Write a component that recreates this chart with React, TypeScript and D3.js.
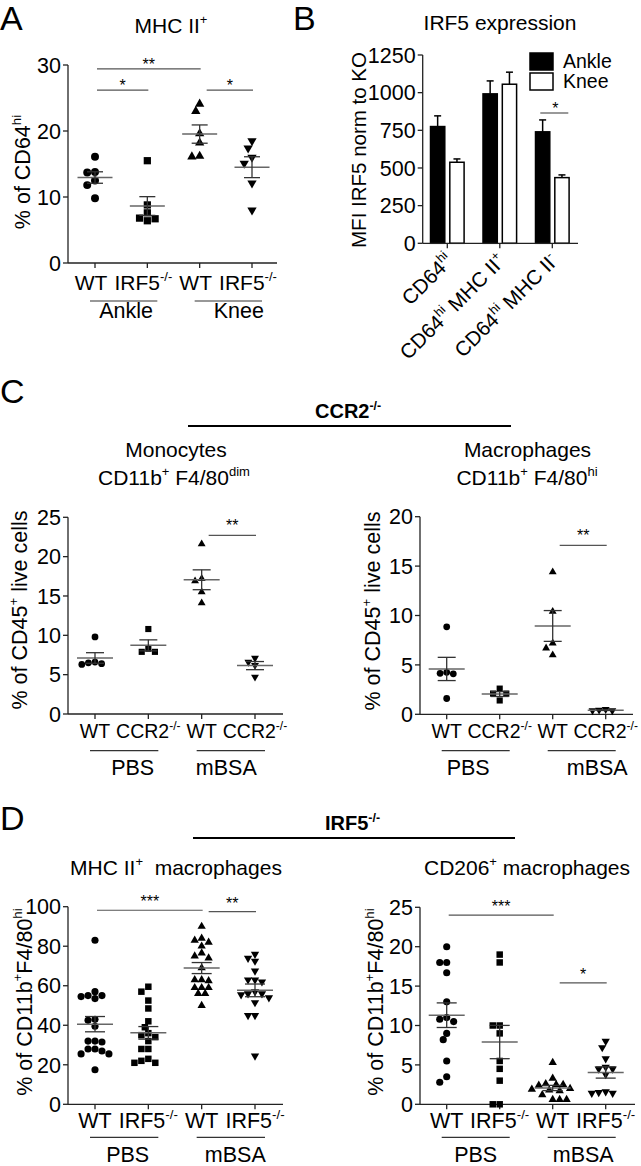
import React from "react";
import * as d3 from "d3";

const FONT = "'Liberation Sans', Arial, Helvetica, sans-serif";
const W = 641;
const H = 1166;

// ---- A: MHC II+ (% of CD64hi) ----
const aCategories = ["WT", "IRF5^{-/-}", "WT", "IRF5^{-/-}"];
const aGroups = ["Ankle", "Knee"];
const aWtAnkle = [16.1, 13.7, 13.8, 12.5, 11.8, 9.8];
const aKoAnkle = [15.5, 8.8, 7.6, 6.8, 6.4, 6.7];
const aWtKnee = [24.1, 23.0, 19.6, 18.2, 16.1, 16.2];
const aKoKnee = [18.5, 17.4, 16.0, 15.1, 12.1, 8.0];
const aTicks = [0, 10, 20, 30];
// [from, to, value, label]
const aSig = [[0, 2, 29.4, "**"], [0, 1, 26.2, "*"], [2, 3, 26.2, "*"]];

// ---- B: IRF5 expression ----
const bCategories = ["CD64^{hi}", "CD64^{hi} MHC II^{+}", "CD64^{hi} MHC II^{-}"];
const bSeries = ["Ankle", "Knee"];
const bAnkle = [775, 992, 740];
const bAnkleSem = [71, 86, 79];
const bKnee = [538, 1056, 436];
const bKneeSem = [22, 80, 18];
const bTicks = [0, 250, 500, 750, 1000, 1250];

// ---- C: CCR2-/- ----
const cCategories = ["WT", "CCR2^{-/-}", "WT", "CCR2^{-/-}"];
const cGroups = ["PBS", "mBSA"];
const cMonoWtPbs = [9.8, 6.6, 6.4, 6.5, 6.3];
const cMonoKoPbs = [10.8, 8.3, 7.9, 7.9];
const cMonoWtMbsa = [21.6, 16.9, 17.2, 15.5, 14.1];
const cMonoKoMbsa = [7.1, 6.6, 6.2, 4.7];
const cMonoTicks = [0, 5, 10, 15, 20, 25];
const cMonoSig = [[2, 3, 22.7, "**"]];
const cMacWtPbs = [8.85, 4.15, 4.1, 4.25, 1.6];
const cMacKoPbs = [2.1, 2.6, 2.1, 1.4];
const cMacWtMbsa = [14.4, 10.4, 7.2, 6.7, 6.0];
const cMacKoMbsa = [0.43, 0.37, 0.37, 0.5];
const cMacTicks = [0, 5, 10, 15, 20];
const cMacSig = [[2, 3, 17.1, "**"]];

// ---- D: IRF5-/- ----
const dCategories = ["WT", "IRF5^{-/-}", "WT", "IRF5^{-/-}"];
const dGroups = ["PBS", "mBSA"];
const dMhcWtPbs = [83, 57, 55, 53.5, 54.5, 55, 43, 39.5, 42.5, 32, 31.5, 32, 28, 27, 25.5, 25.5, 28, 17.5];
const dMhcKoPbs = [59.5, 57, 52.5, 48.5, 42, 39, 35, 36, 34, 32, 28, 28, 22, 21, 21, 23];
const dMhcWtMbsa = [90, 84, 83, 82, 80, 76.5, 75, 74, 69, 63, 63, 62.5, 59, 59, 59, 56, 56, 50];
const dMhcKoMbsa = [76, 74, 72.5, 67.5, 63, 62, 63, 57, 56, 56, 55.5, 54, 51.5, 45, 45, 24.5];
const dMhcTicks = [0, 20, 40, 60, 80, 100];
const dMhcSig = [[0, 2, 98.2, "***"], [2, 3, 97.5, "**"]];
const dCdWtPbs = [20, 18, 18, 16.7, 13, 11, 10.8, 10.5, 8.2, 9, 5.5, 3.5, 2.8];
const dCdKoPbs = [19, 18, 10, 10, 9, 5.5, 4.5, 3, 0, 0];
const dCdWtMbsa = [5.3, 3.3, 2.6, 2.5, 2.5, 2.4, 2.0, 1.9, 1.8, 1.7, 1.2, 0.6, 0.6, 0.6];
const dCdKoMbsa = [8, 7.2, 5.8, 4.7, 4.5, 4.5, 3.8, 1.6, 1.4, 1.4, 1.5];
const dCdTicks = [0, 5, 10, 15, 20, 25];
const dCdSig = [[0, 2, 24.0, "***"], [2, 3, 15.4, "*"]];

// text with ^{superscript} parts
function rich(s, fs) {
  const parts = s.split(/(\^\{[^}]*\})/).filter((p) => p.length);
  const out = [];
  let up = false;
  parts.forEach((part, i) => {
    if (part.startsWith("^{")) {
      out.push(
        <tspan key={i} fontSize={fs * 0.62} dy={-fs * 0.42}>
          {part.slice(2, -1)}
        </tspan>
      );
      up = true;
    } else {
      out.push(
        <tspan key={i} dy={up ? fs * 0.42 : 0}>
          {part}
        </tspan>
      );
      up = false;
    }
  });
  return out;
}

function Txt({ x, y, s, fs = 21, anchor = "middle", weight = "normal", transform = undefined }) {
  return (
    <text
      x={x}
      y={y}
      fontSize={fs}
      textAnchor={anchor}
      fontWeight={weight}
      transform={transform}
      style={{ whiteSpace: "pre" }}
    >
      {rich(s, fs)}
    </text>
  );
}

// simple beeswarm placement
function swarm(vals, y, cx, d) {
  const order = d3.range(vals.length).sort((a, b) => vals[b] - vals[a]);
  const cands = [0];
  for (let k = 1; k < 14; k++) cands.push((-k * d) / 2, (k * d) / 2);
  const placed = [];
  const out = new Array(vals.length);
  order.forEach((i) => {
    const py = y(vals[i]);
    for (const off of cands) {
      const px = cx + off;
      if (placed.every((q) => (q.x - px) ** 2 + (q.y - py) ** 2 >= d * d * 0.9)) {
        placed.push({ x: px, y: py });
        out[i] = { x: px, y: py };
        break;
      }
    }
  });
  return out;
}

const shapes = ["circle", "square", "up", "down"];
function symPath(kind, size) {
  if (kind === "circle") return d3.symbol().type(d3.symbolCircle).size(size)();
  if (kind === "square") return d3.symbol().type(d3.symbolSquare).size(size * 1.05)();
  return d3.symbol().type(d3.symbolTriangle).size(size * 0.75)();
}

function ScatterPanel(p) {
  const y = d3.scaleLinear().domain([0, p.max]).range([p.yBot, p.yTop]);
  const x = d3.scalePoint().domain(d3.range(p.cats.length)).range(p.catRange);
  const diam = Math.sqrt(p.symSize) * 1.1;
  return (
    <g>
      {/* axes */}
      <line x1={p.x0} x2={p.x0} y1={p.yTop} y2={p.yBot} stroke="#222" strokeWidth={1.3} />
      <line x1={p.x0} x2={p.x1} y1={p.yBot} y2={p.yBot} stroke="#222" strokeWidth={1.3} />
      {p.ticks.map((t) => (
        <g key={t}>
          <line x1={p.x0 - 5} x2={p.x0} y1={y(t)} y2={y(t)} stroke="#222" strokeWidth={1.3} />
          <text x={p.x0 - 7} y={y(t)} dy="0.36em" fontSize={21.5} textAnchor="end">
            {t}
          </text>
        </g>
      ))}
      {p.cats.map((c, i) => (
        <g key={i}>
          <line x1={x(i)} x2={x(i)} y1={p.yBot} y2={p.yBot + 5} stroke="#222" strokeWidth={1.3} />
          <Txt x={x(i) + p.catDx} y={p.catLabelY} s={c} fs={p.catFs} />
        </g>
      ))}
      {p.groups.map((g, k) => (
        <g key={g}>
          <line
            x1={x(2 * k) - 5}
            x2={x(2 * k + 1) + 10}
            y1={p.groupLineY}
            y2={p.groupLineY}
            stroke="#333"
            strokeWidth={1.2}
          />
          <Txt x={(x(2 * k) + x(2 * k + 1)) / 2 + p.groupDx[k]} y={p.groupLabelY} s={g} fs={21.5} />
        </g>
      ))}
      <Txt
        x={0}
        y={0}
        s={p.yLabel}
        fs={21.5}
        transform={`translate(${p.yLabelX},${p.yLabelY}) rotate(-90)`}
      />
      {/* points */}
      {p.series.map((vals, i) => {
        const pts = swarm(vals, y, x(i), diam);
        const d = symPath(shapes[i], p.symSize);
        return pts.map((pt, j) => (
          <path
            key={`${i}-${j}`}
            d={d}
            transform={`translate(${pt.x},${pt.y})${shapes[i] === "down" ? " rotate(180)" : ""}`}
            fill="#000"
          />
        ));
      })}
      {/* mean +/- SEM */}
      {p.series.map((vals, i) => {
        const m = d3.mean(vals);
        const sem = d3.deviation(vals) / Math.sqrt(vals.length);
        const cx = x(i);
        return (
          <g key={`m${i}`}>
            <line x1={cx - p.meanHalf} x2={cx + p.meanHalf} y1={y(m)} y2={y(m)} stroke="#666" strokeWidth={1.5} />
            <line x1={cx} x2={cx} y1={y(m + sem)} y2={y(m - sem)} stroke="#333" strokeWidth={1.3} />
            <line x1={cx - p.semHalf} x2={cx + p.semHalf} y1={y(m + sem)} y2={y(m + sem)} stroke="#333" strokeWidth={1.3} />
            <line x1={cx - p.semHalf} x2={cx + p.semHalf} y1={y(m - sem)} y2={y(m - sem)} stroke="#333" strokeWidth={1.3} />
          </g>
        );
      })}
      {/* significance */}
      {p.sig.map(([a, b, v, lab], k) => {
        const x1 = x(a) + (a === 0 ? 2 : 7);
        const x2 = x(b) + 1;
        return (
          <g key={`s${k}`}>
            <line x1={x1} x2={x2} y1={y(v)} y2={y(v)} stroke="#555" strokeWidth={1.2} />
            <text x={(x1 + x2) / 2} y={y(v) + p.starDy} fontSize={16} textAnchor="middle">
              {lab}
            </text>
          </g>
        );
      })}
    </g>
  );
}

function BarPanel() {
  const y = d3.scaleLinear().domain([0, 1250]).range([243.3, 55]);
  const gx = d3.scalePoint().domain(bCategories).range([447.3, 552.3]);
  const sx = d3.scaleBand().domain(bSeries).range([-16.8, 16.8]).paddingInner(0.26);
  const series = [
    { name: bSeries[0], vals: bAnkle, sem: bAnkleSem, fill: "#000" },
    { name: bSeries[1], vals: bKnee, sem: bKneeSem, fill: "#fff" },
  ];
  const x0 = 422.7;
  return (
    <g>
      {series.map((s) =>
        bCategories.map((c, i) => {
          const bx = gx(c) + sx(s.name);
          const bw = sx.bandwidth();
          const top = y(s.vals[i]);
          const et = y(s.vals[i] + s.sem[i]);
          const cx = bx + bw / 2;
          return (
            <g key={s.name + i}>
              <line x1={cx} x2={cx} y1={top} y2={et} stroke="#000" strokeWidth={1.5} />
              <line x1={cx - 3.5} x2={cx + 3.5} y1={et} y2={et} stroke="#000" strokeWidth={1.5} />
              <rect x={bx} y={top} width={bw} height={y(0) - top} fill={s.fill} stroke="#000" strokeWidth={1.5} />
            </g>
          );
        })
      )}
      <line x1={x0} x2={x0} y1={y(1250)} y2={y(0)} stroke="#222" strokeWidth={1.3} />
      <line x1={x0} x2={578} y1={y(0)} y2={y(0)} stroke="#222" strokeWidth={1.3} />
      {bTicks.map((t) => (
        <g key={t}>
          <line x1={x0 - 5} x2={x0} y1={y(t)} y2={y(t)} stroke="#222" strokeWidth={1.3} />
          <text x={x0 - 7} y={y(t)} dy="0.36em" fontSize={21.5} textAnchor="end">
            {t}
          </text>
        </g>
      ))}
      {bCategories.map((c) => (
        <g key={c}>
          <line x1={gx(c)} x2={gx(c)} y1={y(0)} y2={y(0) + 5} stroke="#222" strokeWidth={1.3} />
          <Txt x={0} y={0} s={c} fs={20.5} anchor="end" transform={`translate(${gx(c) + 7},${y(0) + 19}) rotate(-45)`} />
        </g>
      ))}
      <Txt x={0} y={0} s="MFI IRF5 norm to KO" fs={20.5} transform={`translate(366,150) rotate(-90)`} />
      {/* legend */}
      {series.map((s, i) => (
        <g key={s.name}>
          <rect x={530} y={53 + i * 20} width={23} height={17} fill={s.fill} stroke="#000" strokeWidth={1.5} />
          <text x={563} y={68 + i * 19.5} fontSize={19.5}>
            {s.name}
          </text>
        </g>
      ))}
      {/* significance */}
      <line x1={gx(bCategories[2]) - 12} x2={gx(bCategories[2]) + 16} y1={y(865)} y2={y(865)} stroke="#555" strokeWidth={1.2} />
      <text x={gx(bCategories[2]) + 3} y={y(865) + 1} fontSize={16} textAnchor="middle">
        *
      </text>
    </g>
  );
}

export default function App() {
  const panels = [
    {
      cats: aCategories, groups: aGroups, series: [aWtAnkle, aKoAnkle, aWtKnee, aKoKnee],
      ticks: aTicks, max: 30, x0: 68, x1: 277, yBot: 263, yTop: 65, catRange: [95, 252],
      catLabelY: 290, catDx: -4, catFs: 21, groupLineY: 301, groupLabelY: 318, groupDx: [5, 13],
      sig: aSig, starDy: 1, symSize: 50, meanHalf: 17.5, semHalf: 8,
      yLabel: "% of CD64^{hi}", yLabelX: 30, yLabelY: 172,
    },
    {
      cats: cCategories, groups: cGroups, series: [cMonoWtPbs, cMonoKoPbs, cMonoWtMbsa, cMonoKoMbsa],
      ticks: cMonoTicks, max: 25, x0: 68, x1: 283, yBot: 714, yTop: 517.3, catRange: [95, 255],
      catLabelY: 738, catDx: 0, catFs: 19.5, groupLineY: 750.7, groupLabelY: 775, groupDx: [11, -2],
      sig: cMonoSig, starDy: -4, symSize: 36, meanHalf: 18, semHalf: 9,
      yLabel: "% of CD45^{+} live cells", yLabelX: 27, yLabelY: 610,
    },
    {
      cats: cCategories, groups: cGroups, series: [cMacWtPbs, cMacKoPbs, cMacWtMbsa, cMacKoMbsa],
      ticks: cMacTicks, max: 20, x0: 420, x1: 633, yBot: 714.3, yTop: 516.7, catRange: [446.7, 605.7],
      catLabelY: 738, catDx: 0, catFs: 19.5, groupLineY: 750.7, groupLabelY: 775, groupDx: [-5, 18],
      sig: cMacSig, starDy: -4, symSize: 36, meanHalf: 18, semHalf: 9,
      yLabel: "% of CD45^{+} live cells", yLabelX: 380, yLabelY: 611,
    },
    {
      cats: dCategories, groups: dGroups, series: [dMhcWtPbs, dMhcKoPbs, dMhcWtMbsa, dMhcKoMbsa],
      ticks: dMhcTicks, max: 100, x0: 68, x1: 283, yBot: 1104.3, yTop: 906.7, catRange: [95, 255],
      catLabelY: 1128, catDx: 0, catFs: 21.5, groupLineY: 1137.3, groupLabelY: 1162, groupDx: [6, 7],
      sig: dMhcSig, starDy: -3, symSize: 40, meanHalf: 18, semHalf: 10,
      yLabel: "% of CD11b^{+}F4/80^{hi}", yLabelX: 31.5, yLabelY: 1002,
    },
    {
      cats: dCategories, groups: dGroups, series: [dCdWtPbs, dCdKoPbs, dCdWtMbsa, dCdKoMbsa],
      ticks: dCdTicks, max: 25, x0: 420, x1: 635, yBot: 1104.3, yTop: 907.3, catRange: [446.7, 605.7],
      catLabelY: 1128, catDx: 0, catFs: 21.5, groupLineY: 1137.3, groupLabelY: 1162, groupDx: [2.5, 4],
      sig: dCdSig, starDy: -3, symSize: 40, meanHalf: 18, semHalf: 10,
      yLabel: "% of CD11b^{+}F4/80^{hi}", yLabelX: 383, yLabelY: 1002,
    },
  ];

  return (
    <svg
      width={W}
      height={H}
      viewBox={`0 0 ${W} ${H}`}
      style={{ position: "absolute", left: 0, top: 0, background: "#fff" }}
      fontFamily={FONT}
      fill="#000"
    >
      <rect width={W} height={H} fill="#fff" />
      {/* panel letters */}
      <text x={0} y={30} fontSize={34}>A</text>
      <text x={293} y={30} fontSize={34}>B</text>
      <text x={0} y={403} fontSize={34}>C</text>
      <text x={0} y={830} fontSize={34}>D</text>

      {/* titles */}
      <Txt x={171} y={33} s="MHC II^{+}" fs={21} />
      <Txt x={500} y={30} s="IRF5 expression" fs={21} />
      <Txt x={176} y={457} s="Monocytes" fs={21} />
      <Txt x={174} y={485} s="CD11b^{+} F4/80^{dim}" fs={21} />
      <Txt x={527.5} y={457} s="Macrophages" fs={21} />
      <Txt x={527} y={485} s="CD11b^{+} F4/80^{hi}" fs={21} />
      <Txt x={176} y={875} s="MHC II^{+}  macrophages" fs={21} />
      <Txt x={527} y={875} s="CD206^{+} macrophages" fs={21} />

      {/* strain headers */}
      <Txt x={315} y={418} s="CCR2^{-/-}" fs={20} anchor="start" weight="bold" />
      <line x1={188} x2={511} y1={426} y2={426} stroke="#000" strokeWidth={2} />
      <Txt x={325} y={830} s="IRF5^{-/-}" fs={20} anchor="start" weight="bold" />
      <line x1={193} x2={515} y1={838} y2={838} stroke="#000" strokeWidth={2} />

      {panels.map((p, i) => (
        <ScatterPanel key={i} {...p} />
      ))}
      <BarPanel />
    </svg>
  );
}
